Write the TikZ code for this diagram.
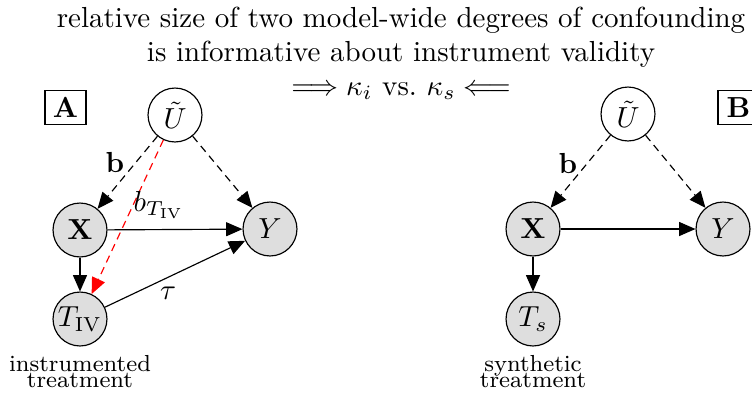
\documentclass[tikz,border=0pt]{standalone}
\usepackage{amsmath,amssymb}
\usetikzlibrary{arrows.meta}
\definecolor{nodegray}{RGB}{222,222,222}
\begin{document}
\begin{tikzpicture}[x=0.3448pt,y=-0.3448pt,
  var/.style={circle,draw,line width=0.4pt,minimum size=18.6pt,inner sep=0pt,fill=nodegray,font=\normalsize},
  latent/.style={var,fill=white},
  edge/.style={-{Triangle[length=5.6pt,width=4.8pt]},line width=0.4pt},
  conf/.style={edge,dash pattern=on 2.6pt off 1.8pt},
  panel/.style={draw,line width=0.4pt,minimum width=14.1pt,minimum height=12pt,inner sep=0pt,font=\bfseries},
  lab/.style={font=\normalsize},
  captext/.style={font=\footnotesize,align=center,inner sep=0pt}]
\useasboundingbox (0,0) rectangle (752,392);
% title
\node[anchor=base] (t1) at (401,27) {relative size of two model-wide degrees of confounding};
\node[anchor=base] (t2) at (401,61) {is informative about instrument validity};
\node[anchor=base] (t3) at (401,95) {$\Longrightarrow \kappa_i$ vs.\ $\kappa_s \Longleftarrow$};
% panel A
\node[panel] (boxA) at (65.5,107.5) {A};
\node[latent] (UA) at (175,115) {$\tilde{U}$};
\node[var] (XA) at (80,230) {$\mathbf{X}$};
\node[var] (YA) at (270,229) {$Y$};
\node[var] (TA) at (80,319) {$T_{\mathrm{IV}}$};
\node[captext] (capA) at (80,372) {instrumented\\[-4pt]treatment};
\draw[conf] (UA) -- (XA);
\draw[conf] (UA) -- (YA);
\draw[conf,red] (UA) -- (TA);
\draw[edge] (XA) -- (YA);
\draw[edge] (XA) -- (TA);
\draw[edge] (TA) -- (YA);
\node[lab] (bA) at (115,162) {$\mathbf{b}$};
\node[lab] (bT) at (159,205) {$b_{T_{\mathrm{IV}}}$};
\node[lab] (tau) at (168,293) {$\tau$};
% panel B
\node[panel] (boxB) at (738.5,107.5) {B};
\node[latent] (UB) at (628,114) {$\tilde{U}$};
\node[var] (XB) at (533,229) {$\mathbf{X}$};
\node[var] (YB) at (723,229) {$Y$};
\node[var] (TB) at (533,319) {$T_s$};
\node[captext] (capB) at (533,372) {synthetic\\[-4pt]treatment};
\draw[conf] (UB) -- (XB);
\draw[conf] (UB) -- (YB);
\draw[edge] (XB) -- (YB);
\draw[edge] (XB) -- (TB);
\node[lab] (bB) at (568,163) {$\mathbf{b}$};
\end{tikzpicture}
\end{document}
